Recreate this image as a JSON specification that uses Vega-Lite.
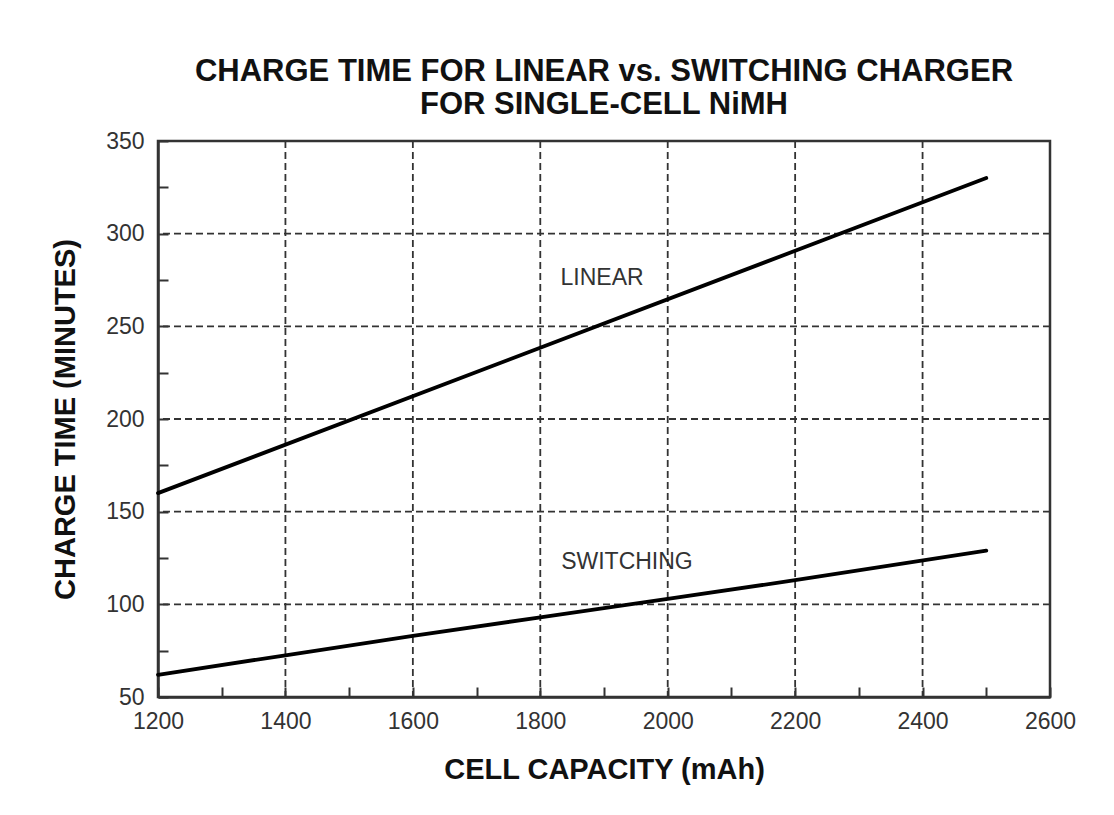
{
  "$schema": "https://vega.github.io/schema/vega-lite/v6.json",
  "autosize": "none",
  "width": 892,
  "height": 556,
  "padding": {"left": 158, "top": 141, "right": 64, "bottom": 118},
  "background": "white",
  "title": {
    "text": ["CHARGE TIME FOR LINEAR vs. SWITCHING CHARGER", "FOR SINGLE-CELL NiMH"],
    "anchor": "middle",
    "font": "Liberation Sans",
    "fontSize": 31,
    "fontWeight": "bold",
    "lineHeight": 33,
    "color": "#111",
    "offset": 9
  },
  "config": {
    "view": {"stroke": "#333", "strokeWidth": 2.5},
    "font": "Liberation Sans"
  },
  "layer": [
    {
      "data": {"values": [{"capacity": 1400}, {"capacity": 1600}, {"capacity": 1800}, {"capacity": 2000}, {"capacity": 2200}, {"capacity": 2400}]},
      "mark": {"type": "rule", "color": "#333", "strokeWidth": 1.8, "strokeDash": [7, 4]},
      "encoding": {
        "x": {"field": "capacity", "type": "quantitative", "scale": {"domain": [1200, 2600], "nice": false}}
      }
    },
    {
      "data": {"values": [{"minutes": 100}, {"minutes": 150}, {"minutes": 200}, {"minutes": 250}, {"minutes": 300}]},
      "mark": {"type": "rule", "color": "#333", "strokeWidth": 1.8, "strokeDash": [7, 4]},
      "encoding": {
        "y": {"field": "minutes", "type": "quantitative", "scale": {"domain": [50, 350], "nice": false, "zero": false}}
      }
    },
    {
      "data": {"values": [
        {"series": "LINEAR", "capacity": 1200, "minutes": 160},
        {"series": "LINEAR", "capacity": 2500, "minutes": 330},
        {"series": "SWITCHING", "capacity": 1200, "minutes": 62},
        {"series": "SWITCHING", "capacity": 1400, "minutes": 72.5},
        {"series": "SWITCHING", "capacity": 1600, "minutes": 83},
        {"series": "SWITCHING", "capacity": 1800, "minutes": 93},
        {"series": "SWITCHING", "capacity": 2000, "minutes": 103},
        {"series": "SWITCHING", "capacity": 2200, "minutes": 113},
        {"series": "SWITCHING", "capacity": 2500, "minutes": 129}
      ]},
      "mark": {"type": "line", "color": "black", "strokeWidth": 3.8, "strokeCap": "round"},
      "encoding": {
        "x": {
          "field": "capacity", "type": "quantitative",
          "scale": {"domain": [1200, 2600], "nice": false},
          "axis": {
            "title": "CELL CAPACITY (mAh)",
            "titleFont": "Liberation Sans", "titleFontSize": 29, "titleFontWeight": "bold", "titleColor": "#111",
            "titlePadding": 22,
            "values": [1200, 1300, 1400, 1500, 1600, 1700, 1800, 1900, 2000, 2100, 2200, 2300, 2400, 2500, 2600],
            "format": "d",
            "labelExpr": "datum.value % 200 == 0 ? datum.label : ''",
            "labelFontSize": 23, "labelColor": "#333", "labelPadding": 23,
            "tickSize": -10, "tickWidth": 2, "tickColor": "#333",
            "domainColor": "#333", "domainWidth": 2.5,
            "grid": false, "labelFlush": false, "labelOverlap": false
          }
        },
        "y": {
          "field": "minutes", "type": "quantitative",
          "scale": {"domain": [50, 350], "nice": false, "zero": false},
          "axis": {
            "title": "CHARGE TIME (MINUTES)",
            "titleFont": "Liberation Sans", "titleFontSize": 29, "titleFontWeight": "bold", "titleColor": "#111",
            "titlePadding": 25,
            "values": [50, 75, 100, 125, 150, 175, 200, 225, 250, 275, 300, 325, 350],
            "format": "d",
            "labelExpr": "datum.value % 50 == 0 ? datum.label : ''",
            "labelFontSize": 23, "labelColor": "#333", "labelPadding": 24,
            "tickSize": -10, "tickWidth": 2, "tickColor": "#333",
            "domainColor": "#333", "domainWidth": 2.5,
            "grid": false, "labelFlush": false, "labelOverlap": false
          }
        },
        "detail": {"field": "series"}
      }
    },
    {
      "data": {"values": [
        {"label": "LINEAR", "capacity": 1897, "minutes": 276},
        {"label": "SWITCHING", "capacity": 1936, "minutes": 123}
      ]},
      "mark": {"type": "text", "fontSize": 23, "color": "#333", "align": "center", "baseline": "middle"},
      "encoding": {
        "x": {"field": "capacity", "type": "quantitative"},
        "y": {"field": "minutes", "type": "quantitative"},
        "text": {"field": "label"}
      }
    }
  ]
}
